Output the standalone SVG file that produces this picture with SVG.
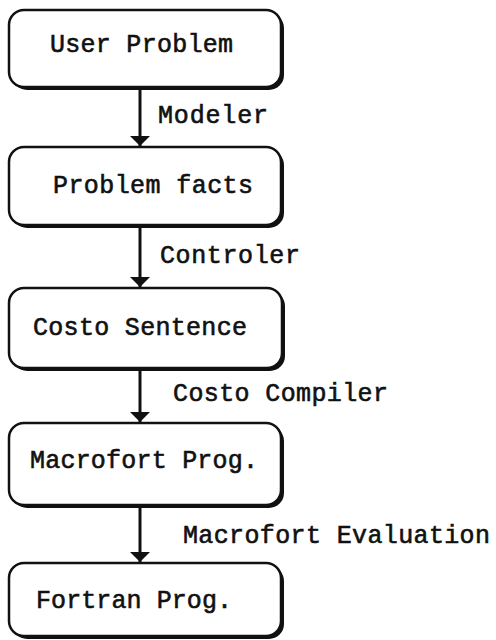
<svg xmlns="http://www.w3.org/2000/svg" width="496" height="640" viewBox="0 0 496 640">
<defs>
<style>
.sh{fill:#111;}
.bx{fill:#fff;stroke:#111;stroke-width:2.5;}
.t{font-family:"Liberation Mono","DejaVu Sans Mono",monospace;font-size:25px;fill:#111;stroke:#111;stroke-width:0.6;}
.ln{stroke:#111;stroke-width:3;fill:none;}
</style>
<marker id="ah" markerWidth="12" markerHeight="22" refX="11" refY="11" markerUnits="userSpaceOnUse" orient="auto" viewBox="0 0 12 22">
<path d="M1,1 L11,11 L1,21 Z" fill="#111"/>
</marker>
</defs>
<rect width="496" height="640" fill="#fff"/>
<g id="connectors">
<line class="ln" x1="140" y1="88" x2="140" y2="146" marker-end="url(#ah)"/>
<line class="ln" x1="140" y1="226" x2="140" y2="287" marker-end="url(#ah)"/>
<line class="ln" x1="140" y1="369" x2="140" y2="422" marker-end="url(#ah)"/>
<line class="ln" x1="140" y1="506" x2="140" y2="562" marker-end="url(#ah)"/>
<text class="t" x="158" y="123" textLength="110">Modeler</text>
<text class="t" x="160" y="263" textLength="140">Controler</text>
<text class="t" x="173" y="401" textLength="215">Costo Compiler</text>
<text class="t" x="183" y="543" textLength="307">Macrofort Evaluation</text>
</g>
<g id="user-problem">
<rect class="sh" x="12" y="13" width="272" height="77" rx="15"/>
<rect class="bx" x="9" y="10" width="272" height="77" rx="15"/>
<text class="t" x="50" y="52" textLength="183">User Problem</text>
</g>
<g id="problem-facts">
<rect class="sh" x="12" y="150" width="272" height="78" rx="15"/>
<rect class="bx" x="9" y="147" width="272" height="78" rx="15"/>
<text class="t" x="53" y="193" textLength="200">Problem facts</text>
</g>
<g id="costo-sentence">
<rect class="sh" x="12" y="291" width="273" height="80" rx="15"/>
<rect class="bx" x="9" y="288" width="273" height="80" rx="15"/>
<text class="t" x="33" y="335" textLength="214">Costo Sentence</text>
</g>
<g id="macrofort-prog">
<rect class="sh" x="12" y="426" width="272" height="82" rx="15"/>
<rect class="bx" x="9" y="423" width="272" height="82" rx="15"/>
<text class="t" x="30" y="468" textLength="228">Macrofort Prog.</text>
</g>
<g id="fortran-prog">
<rect class="sh" x="12" y="566" width="272" height="73" rx="15"/>
<rect class="bx" x="9" y="563" width="272" height="73" rx="15"/>
<text class="t" x="36" y="608" textLength="196">Fortran Prog.</text>
</g>
</svg>
